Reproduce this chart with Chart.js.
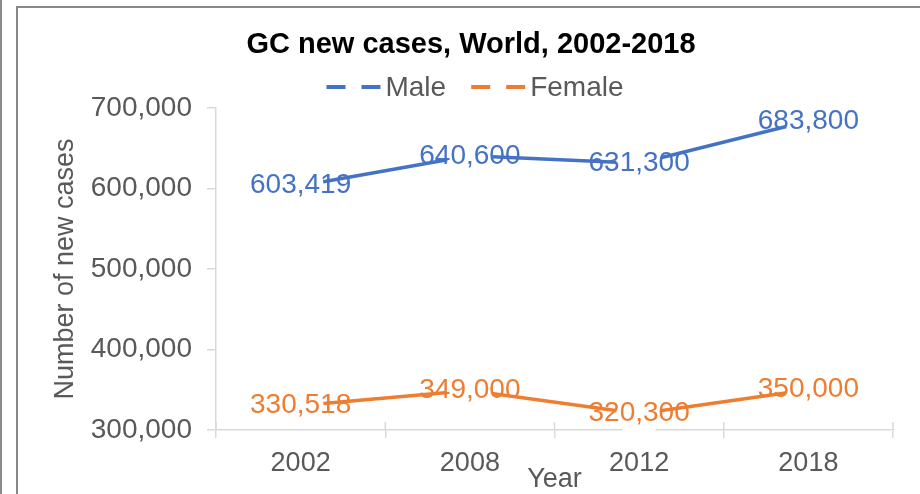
<!DOCTYPE html>
<html>
<head>
<meta charset="utf-8">
<title>GC new cases, World, 2002-2018</title>
<script src="https://cdn.jsdelivr.net/npm/chart.js@4/dist/chart.umd.min.js"></script>
<style>
  html, body {
    margin: 0;
    padding: 0;
    width: 920px;
    height: 494px;
    overflow: hidden;
    background: #fff;
  }
  #edge {
    position: absolute;
    left: 0;
    top: 0;
    width: 2px;
    height: 494px;
    background: #8a8a8a;
  }
  #frame {
    position: absolute;
    left: 16px;
    top: 6px;
    width: 906px;
    height: 490px;
    border: 2px solid #888;
    background: #fff;
  }
</style>
</head>
<body>
<div id="edge"></div>
<div id="frame">
  <canvas id="chart" width="906" height="490"></canvas>
</div>

<script>
const years = ["2002", "2008", "2012", "2018"];
const maleCases = [603419, 640600, 631300, 683800];
const femaleCases = [330518, 349000, 320300, 350000];
const yTicks = [300000, 400000, 500000, 600000, 700000];

const FONT = '"Liberation Sans", Arial, sans-serif';
const BLUE = "#4472C4";
const ORANGE = "#ED7D31";
const GREY_TEXT = "#595959";
const AXIS = "#D9D9D9";

// numbers written next to each point, in the series colour
const valueLabels = {
  id: "valueLabels",
  afterDatasetsDraw(chart) {
    const ctx = chart.ctx;
    ctx.save();
    ctx.font = "28px " + FONT;
    ctx.textAlign = "center";
    ctx.textBaseline = "middle";
    chart.data.datasets.forEach((ds, i) => {
      chart.getDatasetMeta(i).data.forEach((pt, j) => {
        ctx.fillStyle = ds.borderColor;
        ctx.fillText(ds.data[j].toLocaleString("en-US"), pt.x, pt.y);
      });
    });
    ctx.restore();
  },
};

// category tick marks also poke a little above the x axis line
const crossTicks = {
  id: "crossTicks",
  beforeDatasetsDraw(chart) {
    const { ctx, chartArea } = chart;
    const n = chart.data.labels.length;
    const w = chartArea.width / n;
    ctx.save();
    ctx.strokeStyle = AXIS;
    ctx.lineWidth = 1.5;
    ctx.beginPath();
    for (let k = 0; k <= n; k++) {
      const x = chartArea.left + k * w;
      ctx.moveTo(x, chartArea.bottom - 8);
      ctx.lineTo(x, chartArea.bottom);
    }
    ctx.stroke();
    ctx.restore();
  },
};

// dashed line legend under the title
const dashLegend = {
  id: "dashLegend",
  afterDraw(chart) {
    const ctx = chart.ctx;
    const sample = 54, gap = 5, between = 25;
    ctx.save();
    ctx.font = "28px " + FONT;
    ctx.textBaseline = "middle";
    const items = chart.data.datasets.map((ds) => ({
      text: ds.label,
      color: ds.borderColor,
      w: ctx.measureText(ds.label).width,
    }));
    let total = 0;
    items.forEach((it, i) => {
      total += sample + gap + it.w + (i ? between : 0);
    });
    let x = chart.width / 2 - total / 2 + 4;
    const y = 79;
    items.forEach((it) => {
      ctx.strokeStyle = it.color;
      ctx.lineWidth = 4;
      ctx.lineCap = "butt";
      ctx.setLineDash([19, 16]);
      ctx.beginPath();
      ctx.moveTo(x, y);
      ctx.lineTo(x + sample, y);
      ctx.stroke();
      ctx.setLineDash([]);
      ctx.fillStyle = GREY_TEXT;
      ctx.fillText(it.text, x + sample + gap, y + 1);
      x += sample + gap + it.w + between;
    });
    ctx.restore();
  },
};

const ctx = document.getElementById("chart");
new Chart(ctx, {
  type: "line",
  data: {
    labels: years,
    datasets: [
      {
        label: "Male",
        data: maleCases,
        borderColor: BLUE,
        borderWidth: 3.5,
        pointRadius: 23,
        pointBorderWidth: 0,
        pointBackgroundColor: "#fff",
        pointHoverRadius: 23,
        clip: false,
      },
      {
        label: "Female",
        data: femaleCases,
        borderColor: ORANGE,
        borderWidth: 3.5,
        pointRadius: 23,
        pointBorderWidth: 0,
        pointBackgroundColor: "#fff",
        pointHoverRadius: 23,
        clip: false,
      },
    ],
  },
  options: {
    responsive: false,
    animation: false,
    events: [],
    layout: { padding: { left: 31, right: 31, top: 0, bottom: 0 } },
    plugins: {
      legend: { display: false },
      tooltip: { enabled: false },
      title: {
        display: true,
        text: "GC new cases, World, 2002-2018",
        color: "#000",
        font: { family: FONT, size: 29, weight: "bold" },
        padding: { top: 20, bottom: 45.2 },
      },
    },
    scales: {
      x: {
        type: "category",
        offset: true,
        grid: {
          offset: true,
          drawOnChartArea: false,
          drawTicks: true,
          tickLength: 8,
          color: AXIS,
          lineWidth: 1.5,
        },
        border: { color: AXIS, width: 1.5 },
        ticks: {
          color: GREY_TEXT,
          font: { family: FONT, size: 27 },
          padding: 9,
          maxRotation: 0,
        },
        title: {
          display: true,
          text: "Year",
          color: GREY_TEXT,
          font: { family: FONT, size: 27 },
          padding: { top: 0, bottom: 2 },
        },
        afterFit: (scale) => {
          scale.height = 68;
        },
      },
      y: {
        min: yTicks[0],
        max: yTicks[yTicks.length - 1],
        afterBuildTicks: (scale) => {
          scale.ticks = yTicks.map((v) => ({ value: v }));
        },
        grid: {
          drawOnChartArea: false,
          drawTicks: true,
          tickLength: 9,
          color: AXIS,
          lineWidth: 1.5,
        },
        border: { color: AXIS, width: 1.5 },
        ticks: {
          color: GREY_TEXT,
          font: { family: FONT, size: 28 },
          padding: 15,
          callback: (v) => v.toLocaleString("en-US"),
        },
        title: {
          display: true,
          text: "Number of new cases",
          color: GREY_TEXT,
          font: { family: FONT, size: 27 },
          padding: { top: 0, bottom: 0 },
        },
        afterFit: (scale) => {
          scale.width = 167;
        },
      },
    },
  },
  plugins: [valueLabels, crossTicks, dashLegend],
});
</script>
</body>
</html>
